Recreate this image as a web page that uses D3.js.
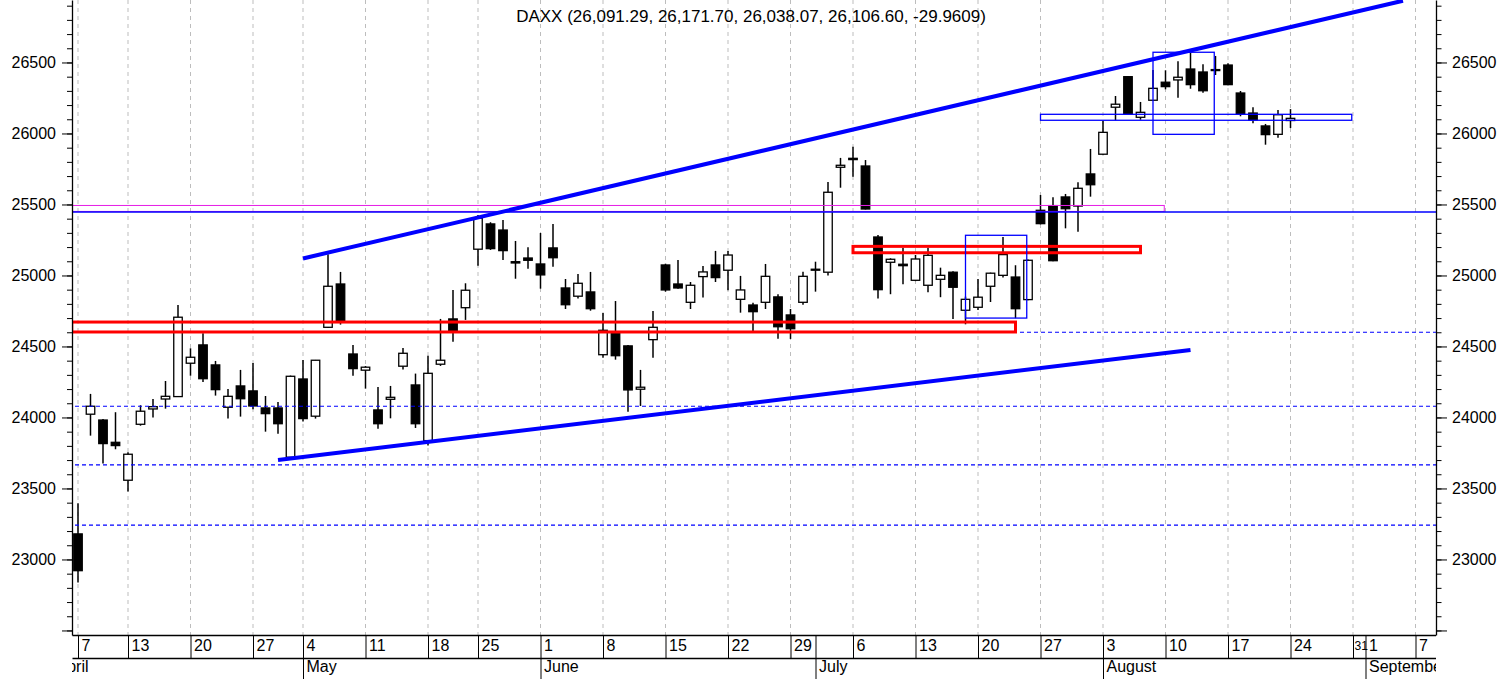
<!DOCTYPE html>
<html>
<head>
<meta charset="utf-8">
<script src="https://cdn.jsdelivr.net/npm/d3@7"></script>
<style>
  html, body { margin: 0; background: #fff; }
  svg { display: block; font-family: "Liberation Sans", Arial, sans-serif; }
</style>
</head>
<body>
<svg id="chart" width="1506" height="679"></svg>
<script>
const title = "DAXX (26,091.29, 26,171.70, 26,038.07, 26,106.60, -29.9609)";

// one candle per trading-day slot, slot = array index
const opens = [23180, 24023, 23982, 23825, 23558, 23952, 24060, 24130, 24147, 24382,
  24511, 24370, 24072, 24222, 24187, 24067, 24067, 23720, 24271, 24009,
  24635, 24940, 24447, 24333, 24053, 24128, 24361, 24229, 23837, 24375,
  24694, 24773, 25185, 25363, 25320, 25097, 25123, 25081, 25194, 24912,
  24854, 24884, 24442, 24590, 24504, 24199, 24548, 25074, 24940, 24811,
  24992, 25074, 25037, 24832, 24792, 24811, 24849, 24722, 24811, 25037,
  25023, 25762, 25825, 25771, 25271, 25093, 25079, 24966, 24931, 24973,
  25023, 24755, 24776, 24924, 25001, 24989, 24830, 25459, 25492, 25553,
  25489, 25715, 25854, 26185, 26400, 26114, 26234, 26361, 26377, 26454,
  26433, 26450, 26482, 26285, 26144, 26053, 25994, 26091.29];
const highs = [23396, 24166, 23990, 24037, 23755, 24086, 24130, 24257, 24792, 24487,
  24593, 24398, 24201, 24335, 24384, 24151, 24109, 24295, 24405, 24405,
  25149, 25025, 24511, 24362, 24215, 24222, 24489, 24309, 24435, 24694,
  24898, 24945, 25426, 25375, 25391, 25243, 25199, 25299, 25363, 24975,
  25011, 25025, 24736, 24820, 24511, 24335, 24750, 25083, 25109, 24954,
  25067, 25173, 25173, 24997, 24808, 25081, 24868, 24764, 25027, 25097,
  25658, 25828, 25907, 25813, 25285, 25121, 25196, 25144, 25196, 25055,
  25030, 24851, 24975, 25020, 25271, 25072, 25112, 25567, 25551, 25574,
  25656, 25891, 26090, 26264, 26405, 26222, 26447, 26445, 26508, 26569,
  26487, 26546, 26494, 26299, 26185, 26067, 26166, 26171.70];
const lows = [22837, 23872, 23675, 23776, 23478, 23942, 23999, 24062, 24147, 24294,
  24250, 24154, 23992, 24006, 24058, 23900, 23886, 23715, 23971, 23992,
  24630, 24654, 24294, 24203, 23921, 23994, 24337, 23926, 23802, 24363,
  24534, 24687, 25069, 25180, 25109, 24977, 25048, 24907, 25062, 24764,
  24837, 24752, 24421, 24407, 24041, 24081, 24421, 24886, 24907, 24764,
  24844, 24954, 24896, 24738, 24604, 24764, 24555, 24553, 24794, 24886,
  24999, 25618, 25696, 25465, 24837, 24868, 24938, 24960, 24882, 24847,
  24694, 24656, 24757, 24813, 24985, 24699, 24826, 25360, 25100, 25332,
  25308, 25555, 25850, 26093, 26135, 26097, 26230, 26311, 26252, 26315,
  26287, 26412, 26340, 26121, 26072, 25921, 25970, 26038.07];
const closes = [22921, 24079, 23816, 23802, 23741, 24044, 24076, 24149, 24706, 24424,
  24273, 24196, 24149, 24132, 24081, 24027, 23956, 24290, 23992, 24403,
  24924, 24682, 24344, 24354, 23956, 24142, 24452, 23956, 24311, 24403,
  24611, 24896, 25403, 25189, 25175, 25088, 25107, 25004, 25125, 24794,
  24945, 24766, 24614, 24435, 24194, 24213, 24635, 24898, 24912, 24931,
  25025, 24985, 25144, 24898, 24745, 24994, 24639, 24625, 24994, 25044,
  25586, 25776, 25816, 25468, 24900, 25114, 25069, 25116, 25142, 25001,
  24917, 24832, 24847, 25016, 25147, 24766, 25107, 25365, 25104, 25470,
  25614, 25639, 26008, 26206, 26137, 26149, 26318, 26330, 26396, 26344,
  26301, 26445, 26344, 26137, 26095, 25992, 26132, 26106.60];

// x axis: week ticks (slot, label) and month starts
const daySlots = [0, 4, 9, 14, 18, 23, 28, 32, 37, 42, 47, 52, 57, 59, 62, 67, 72, 77, 82, 87, 92, 97, 102, 103, 107];
const dayLabels = ["7", "13", "20", "27", "4", "11", "18", "25", "1", "8", "15", "22", "29", "", "6", "13", "20", "27", "3", "10", "17", "24", "31", "1", "7"];
const gridSlots = [0, 4, 9, 14, 18, 23, 28, 32, 37, 42, 47, 52, 57, 62, 67, 72, 77, 82, 87, 92, 97, 102, 107];
const monthSlots = [-2, 18, 37, 59, 82, 103];
const monthNames = ["April", "May", "June", "July", "August", "September"];
const priceLabels = [23000, 23500, 24000, 24500, 25000, 25500, 26000, 26500];

// drawn studies
const dashedLevels = [24600, 24079, 23666, 23242];
const solidLevel = 25447;
const trendUpper = [[18, 25120], [106, 26935]];
const trendLower = [[16, 23700], [89, 24475]];
const redBoxes = [[-0.5, 75, 24602, 24672], [62, 85, 25160, 25205]];
const blueBoxes = [[71, 75.9, 24700, 25283], [86, 90.9, 25994, 26572], [77, 101.9, 26093, 26135]];
const pinkBox = [-0.5, 86.9, 25451, 25493];

const svg = d3.select("#chart");
const left = 72, right = 1436, bottom = 635, dayRow = 658;
const font = "Liberation Sans, Arial, sans-serif";

const x = d3.scaleLinear().domain([-0.48, 108.64]).range([left, right]);
const y = d3.scaleLinear().domain([22468, 26940]).range([bottom, 0]);

svg.append("defs").append("clipPath").attr("id", "plot-clip")
  .append("rect").attr("x", left).attr("y", 0).attr("width", right - left).attr("height", 679);

const grid = svg.append("g");
grid.selectAll("line").data(gridSlots).join("line")
  .attr("x1", (d) => x(d)).attr("x2", (d) => x(d))
  .attr("y1", 0).attr("y2", bottom)
  .attr("stroke", "#bdbdbd").attr("stroke-dasharray", "4,4");

// candles
const candles = d3.range(opens.length).map((i) => ({ i, o: opens[i], h: highs[i], l: lows[i], c: closes[i] }));
const cg = svg.append("g");
cg.selectAll("line").data(candles).join("line")
  .attr("x1", (d) => x(d.i)).attr("x2", (d) => x(d.i))
  .attr("y1", (d) => y(d.h)).attr("y2", (d) => y(d.l))
  .attr("stroke", "#000").attr("stroke-width", 1.5);
cg.selectAll("rect").data(candles).join("rect")
  .attr("x", (d) => x(d.i) - 4.25).attr("width", 8.5)
  .attr("y", (d) => y(Math.max(d.o, d.c)))
  .attr("height", (d) => Math.max(1, Math.abs(y(d.o) - y(d.c))))
  .attr("fill", (d) => (d.c >= d.o ? "#fff" : "#000"))
  .attr("stroke", "#000").attr("stroke-width", 1.3);

// studies
const studies = svg.append("g").attr("clip-path", "url(#plot-clip)");
studies.selectAll(".dash").data(dashedLevels).join("line").attr("class", "dash")
  .attr("x1", left + 3).attr("x2", right).attr("y1", (d) => y(d)).attr("y2", (d) => y(d))
  .attr("stroke", "#0000ff").attr("stroke-width", 1.2).attr("stroke-dasharray", "4,3");
studies.append("rect")
  .attr("x", x(pinkBox[0])).attr("width", x(pinkBox[1]) - x(pinkBox[0]))
  .attr("y", y(pinkBox[3])).attr("height", y(pinkBox[2]) - y(pinkBox[3]))
  .attr("fill", "none").attr("stroke", "#e61ee6").attr("stroke-width", 1);
studies.append("line")
  .attr("x1", left).attr("x2", right).attr("y1", y(solidLevel)).attr("y2", y(solidLevel))
  .attr("stroke", "#0000ff").attr("stroke-width", 1.5);
studies.selectAll(".red").data(redBoxes).join("rect").attr("class", "red")
  .attr("x", (d) => x(d[0])).attr("width", (d) => x(d[1]) - x(d[0]))
  .attr("y", (d) => y(d[3])).attr("height", (d) => y(d[2]) - y(d[3]))
  .attr("fill", "none").attr("stroke", "#ff0000").attr("stroke-width", 3);
studies.selectAll(".blue").data(blueBoxes).join("rect").attr("class", "blue")
  .attr("x", (d) => x(d[0])).attr("width", (d) => x(d[1]) - x(d[0]))
  .attr("y", (d) => y(d[3])).attr("height", (d) => y(d[2]) - y(d[3]))
  .attr("fill", "none").attr("stroke", "#0000ff").attr("stroke-width", 1.3);
const trend = d3.line().x((d) => x(d[0])).y((d) => y(d[1]));
studies.selectAll(".trend").data([trendUpper, trendLower]).join("path").attr("class", "trend")
  .attr("d", trend).attr("fill", "none").attr("stroke", "#0000ff").attr("stroke-width", 4);

// price axes
function priceAxis(axisFn, xPos, majorSize) {
  const g = svg.append("g").attr("transform", `translate(${xPos},0)`);
  g.append("g").call(axisFn(y).tickValues(d3.range(22500, 26901, 100)).tickSize(majorSize / 2).tickSizeOuter(0).tickFormat(""))
    .call((s) => s.select(".domain").attr("stroke-width", 1.3));
  g.append("g").call(axisFn(y).tickValues(d3.range(22500, 26501, 500)).tickSize(majorSize).tickSizeOuter(0)
      .tickPadding(axisFn === d3.axisLeft ? 6 : 5).tickFormat((d) => (priceLabels.includes(d) ? d : "")))
    .call((s) => s.select(".domain").remove())
    .call((s) => s.selectAll("text").attr("font-size", 16).attr("font-family", font).attr("fill", "#000"));
}
priceAxis(d3.axisLeft, left, 10);
priceAxis(d3.axisRight, right, 11);

// date axis rows
const dates = svg.append("g").attr("clip-path", "url(#plot-clip)");
dates.append("g").attr("transform", `translate(0,${bottom})`)
  .call(d3.axisBottom(x).tickValues(daySlots).tickSize(dayRow - bottom).tickSizeOuter(0).tickFormat((d, i) => dayLabels[i]))
  .call((s) => s.select(".domain").attr("stroke-width", 1.3))
  .call((s) => s.selectAll("text").attr("text-anchor", "start").attr("x", 3).attr("y", 5)
    .attr("font-size", 16).attr("font-family", font).attr("fill", "#000")
    .each(function (d, i) {
      // a label too wide for its cell is set smaller so it ends before the next one
      const room = i < daySlots.length - 1 ? x(daySlots[i + 1]) - x(d) + 1 : Infinity;
      const w = dayLabels[i].length * 0.556 * 16;
      if (w > room) {
        d3.select(this).attr("x", 1).attr("y", 6).attr("font-size", (16 * room / w).toFixed(1));
      }
    }));
dates.append("g").attr("transform", `translate(0,${dayRow})`)
  .call(d3.axisBottom(x).tickValues(monthSlots).tickSize(679 - dayRow).tickSizeOuter(0).tickFormat((d, i) => monthNames[i]))
  .call((s) => s.select(".domain").attr("stroke-width", 1.3))
  .call((s) => s.selectAll("text").attr("text-anchor", "start").attr("x", 3).attr("y", 3)
    .attr("font-size", 16).attr("font-family", font).attr("fill", "#000"));

svg.append("text").attr("x", 751).attr("y", 22).attr("text-anchor", "middle")
  .attr("font-size", 17).attr("fill", "#000").text(title);
</script>
</body>
</html>
